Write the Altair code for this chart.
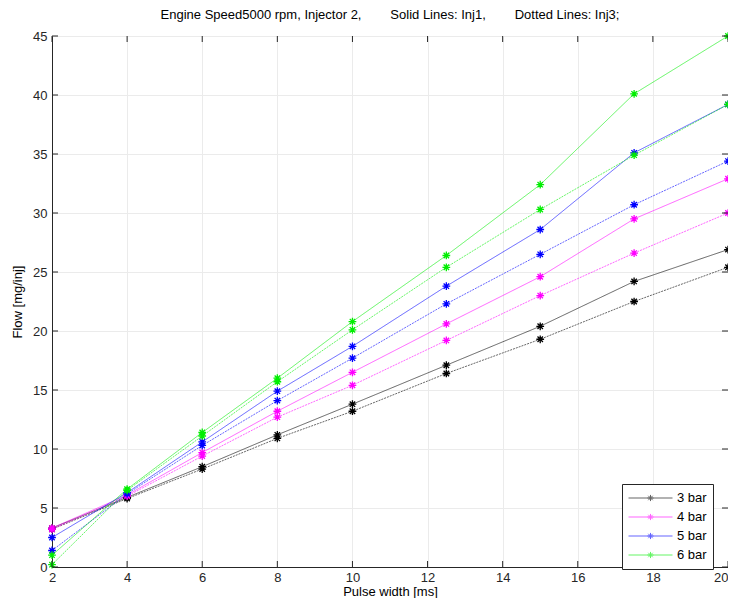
import altair as alt
import pandas as pd

# ---- data ----
pulse_ms = [2, 4, 6, 8, 10, 12.5, 15, 17.5, 20]
bars = ["3 bar", "4 bar", "5 bar", "6 bar"]
bar_colors = ["#000000", "#ff00ff", "#0000ff", "#00ee00"]

b3_inj1 = [3.3, 5.9, 8.5, 11.2, 13.8, 17.1, 20.4, 24.2, 26.9]
b3_inj3 = [3.2, 5.8, 8.3, 10.9, 13.2, 16.4, 19.3, 22.5, 25.4]
b4_inj1 = [3.3, 6.1, 9.7, 13.2, 16.5, 20.6, 24.6, 29.5, 32.9]
b4_inj3 = [3.2, 6.0, 9.4, 12.7, 15.4, 19.2, 23.0, 26.6, 30.0]
b5_inj1 = [2.5, 6.3, 10.6, 14.9, 18.7, 23.8, 28.6, 35.1, 39.2]
b5_inj3 = [1.4, 6.2, 10.3, 14.1, 17.7, 22.3, 26.5, 30.7, 34.4]
b6_inj1 = [1.0, 6.6, 11.4, 16.0, 20.8, 26.4, 32.4, 40.1, 45.0]
b6_inj3 = [0.2, 6.5, 11.1, 15.7, 20.1, 25.4, 30.3, 34.9, 39.2]

x_ticks = [2, 4, 6, 8, 10, 12, 14, 16, 18, 20]
y_ticks = [0, 5, 10, 15, 20, 25, 30, 35, 40, 45]

title_text = ("Engine Speed5000 rpm, Injector 2,\u00a0\u00a0\u00a0\u00a0\u00a0\u00a0\u00a0 Solid Lines: Inj1,"
              "\u00a0\u00a0\u00a0\u00a0\u00a0\u00a0\u00a0 Dotted Lines: Inj3;")

series = [
    ("3 bar", b3_inj1, b3_inj3),
    ("4 bar", b4_inj1, b4_inj3),
    ("5 bar", b5_inj1, b5_inj3),
    ("6 bar", b6_inj1, b6_inj3),
]
rows = []
for name, s1, s3 in series:
    for xv, v in zip(pulse_ms, s1):
        rows.append({"x": xv, "flow": v, "bar": name, "inj": "Inj1"})
    for xv, v in zip(pulse_ms, s3):
        rows.append({"x": xv, "flow": v, "bar": name, "inj": "Inj3"})
df = pd.DataFrame(rows)

W, H = 676, 531
FONT = "Liberation Sans"
AX = "#262626"

star = "M-1,0L1,0M0,-1L0,1M-0.7,-0.7L0.7,0.7M-0.7,0.7L0.7,-0.7"
legend_sym = ("M-1,0L1,0M-0.14,0L0.14,0M0,-0.14L0,0.14"
              "M-0.1,-0.1L0.1,0.1M-0.1,0.1L0.1,-0.1")

xs = alt.Scale(domain=[2, 20], nice=False, zero=False)
ys = alt.Scale(domain=[0, 45], nice=False, zero=False)

x_enc = alt.X("x:Q", scale=xs, title="Pulse width [ms]",
              axis=alt.Axis(values=x_ticks, format="d",
                            labelAlign=alt.ExprRef(expr="datum.value == 20 ? 'right' : 'center'")))
y_enc = alt.Y("flow:Q", scale=ys, title="Flow [mg/inj]",
              axis=alt.Axis(values=y_ticks, format="d"))

color = alt.Color(
    "bar:N",
    scale=alt.Scale(domain=bars, range=bar_colors),
    legend=alt.Legend(
        title=None, orient="none", legendX=570, legendY=448,
        symbolType=legend_sym, symbolSize=1936, symbolStrokeWidth=1,
        symbolFillColor="transparent", clipHeight=16,
        labelFont=FONT, labelFontSize=13, labelColor="#000000", labelOffset=4,
        strokeColor=AX, fillColor="white", padding=6, rowPadding=3,
        cornerRadius=0,
    ),
)

lines = alt.Chart(df).mark_line(strokeWidth=1, opacity=0.6).encode(
    x=x_enc, y=y_enc, color=color,
    strokeDash=alt.StrokeDash("inj:N", legend=None,
                              scale=alt.Scale(domain=["Inj1", "Inj3"], range=[[1, 0], [2, 1]])),
    detail="inj:N",
)

points = alt.Chart(df).mark_point(shape=star, size=60, filled=False, strokeWidth=1.3, opacity=1).encode(
    x=x_enc, y=y_enc, color=color,
)

xt = pd.DataFrame({"x": x_ticks})
yt = pd.DataFrame({"flow": y_ticks})
tick_x_bottom = alt.Chart(xt).mark_rule(color=AX, strokeWidth=1).encode(
    x=alt.X("x:Q", scale=xs), y=alt.value(H), y2=alt.value(H - 6))
tick_x_top = alt.Chart(xt).mark_rule(color=AX, strokeWidth=1).encode(
    x=alt.X("x:Q", scale=xs), y=alt.value(0), y2=alt.value(6))
tick_y_left = alt.Chart(yt).mark_rule(color=AX, strokeWidth=1).encode(
    y=alt.Y("flow:Q", scale=ys), x=alt.value(0), x2=alt.value(6))
tick_y_right = alt.Chart(yt).mark_rule(color=AX, strokeWidth=1).encode(
    y=alt.Y("flow:Q", scale=ys), x=alt.value(W - 6), x2=alt.value(W))

chart = alt.layer(lines, points, tick_x_bottom, tick_x_top, tick_y_left, tick_y_right).properties(
    width=W, height=H,
    title=alt.TitleParams(title_text, font=FONT, fontSize=13, fontWeight="normal",
                          color="#000000", anchor="middle", offset=8),
    autosize=alt.AutoSizeParams(type="none"),
    padding={"left": 44, "top": 28, "right": 0, "bottom": 31},
).configure_view(
    stroke=AX, strokeWidth=1,
).configure_axis(
    ticks=False, domainColor=AX, domainWidth=1,
    gridColor="#ebebeb", gridWidth=1,
    labelFont=FONT, labelFontSize=13, labelColor=AX,
    titleFont=FONT, titleFontSize=13, titleFontWeight="normal", titleColor="#000000",
).configure_axisX(
    labelPadding=4, titlePadding=1,
).configure_axisY(
    labelPadding=5, titlePadding=8,
)

chart.save("out.html", embed_options={"renderer": "svg", "actions": False})
